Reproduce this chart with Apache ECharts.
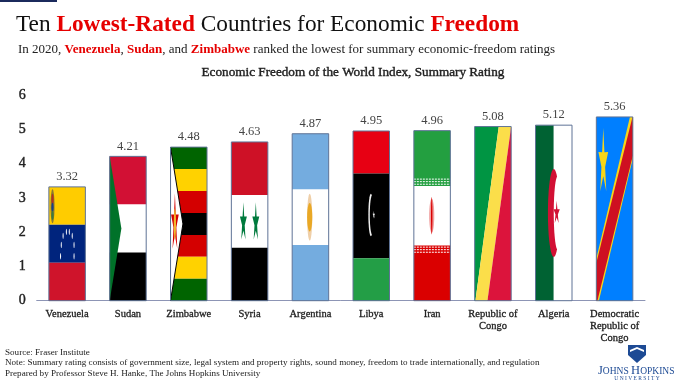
<!DOCTYPE html>
<html lang="en">
<head>
    <meta charset="UTF-8">
    <title>Ten Lowest-Rated Countries for Economic Freedom</title>
    <script src="https://cdn.jsdelivr.net/npm/echarts@6/dist/echarts.min.js"></script>
    <style>
        html, body { margin: 0; padding: 0; background: #fff; }
    </style>
</head>
<body>
<div id="main" style="width: 680px;height:383px;"></div>
<script type="text/javascript">
    var countries = ['Venezuela', 'Sudan', 'Zimbabwe', 'Syria', 'Argentina', 'Libya', 'Iran', 'Republic of\nCongo', 'Algeria', 'Democratic\nRepublic of\nCongo'];
    var ratings = [3.32, 4.21, 4.48, 4.63, 4.87, 4.95, 4.96, 5.08, 5.12, 5.36];
    var yTicks = [0, 1, 2, 3, 4, 5, 6];
    var chartTitle = 'Economic Freedom of the World Index, Summary Rating';
    var footnotes = [
        'Source: Fraser Institute',
        'Note: Summary rating consists of government size, legal system and property rights, sound money, freedom to trade internationally, and regulation',
        'Prepared by Professor Steve H. Hanke, The Johns Hopkins University'
    ];

    var SERIF = '"Liberation Serif", serif';

    // flag drawing helpers, everything in fractions of the bar box
    function rect(b, u0, v0, u1, v1, color) {
        return {type: 'rect', shape: {x: b.x + u0 * b.w, y: b.y + v0 * b.h, width: (u1 - u0) * b.w, height: (v1 - v0) * b.h}, style: {fill: color}};
    }
    function stripes(b, colors) {
        return colors.map(function (c, i) {
            return rect(b, 0, i / colors.length, 1, (i + 1) / colors.length, c);
        });
    }
    function poly(b, pts, color, stroke) {
        return {
            type: 'polygon',
            shape: {points: pts.map(function (p) { return [b.x + p[0] * b.w, b.y + p[1] * b.h]; })},
            style: stroke ? {fill: color, stroke: stroke, lineWidth: 1} : {fill: color}
        };
    }
    function oval(b, u, v, ru, rv, color) {
        return {type: 'ellipse', shape: {cx: b.x + u * b.w, cy: b.y + v * b.h, rx: ru * b.w, ry: rv * b.h}, style: {fill: color}};
    }
    function star(b, u, v, ru, rv, color) {
        var pts = [];
        for (var i = 0; i < 10; i++) {
            var r = i % 2 ? 0.38 : 1;
            var a = -Math.PI / 2 + i * Math.PI / 5;
            pts.push([u + r * ru * Math.cos(a), v + r * rv * Math.sin(a)]);
        }
        return poly(b, pts, color);
    }
    function dashes(b, v, color) {
        return {
            type: 'line',
            shape: {x1: b.x, y1: b.y + v * b.h, x2: b.x + b.w, y2: b.y + v * b.h},
            style: {stroke: color, lineWidth: 1, lineDash: [2, 1]}
        };
    }

    var flagPainters = {
        'Venezuela': function (b) {
            var out = stripes(b, ['#FFCC00', '#00247D', '#CF142B']);
            var su = [.32, .34, .39, .48, .56, .64, .69, .69];
            var sv = [.61, .51, .43, .395, .395, .43, .51, .61];
            su.forEach(function (u, i) { out.push(oval(b, u, sv[i], .014, .028, '#fff')); });
            out.push(oval(b, .1, .17, .055, .15, '#8a7a30'));
            out.push(oval(b, .1, .11, .03, .05, '#b5301f'));
            out.push(oval(b, .1, .18, .03, .04, '#1d3f86'));
            out.push(oval(b, .1, .25, .03, .04, '#3d7a3d'));
            return out;
        },
        'Sudan': function (b) {
            var out = stripes(b, ['#D21034', '#fff', '#000']);
            out.push(poly(b, [[0, 0], [.32, .5], [0, 1]], '#007229'));
            return out;
        },
        'Zimbabwe': function (b) {
            var out = stripes(b, ['#006400', '#FFD200', '#D40000', '#000', '#D40000', '#FFD200', '#006400']);
            out.push(poly(b, [[0, 0], [.34, .5], [0, 1]], '#fff', '#000'));
            out.push(star(b, .12, .5, .11, .2, '#D40000'));
            out.push(oval(b, .12, .5, .03, .1, '#F1B82D'));
            return out;
        },
        'Syria': function (b) {
            var out = stripes(b, ['#CE1126', '#fff', '#000']);
            out.push(star(b, .33, .51, .1, .13, '#007A3D'));
            out.push(star(b, .67, .51, .1, .13, '#007A3D'));
            return out;
        },
        'Argentina': function (b) {
            var out = stripes(b, ['#74ACDF', '#fff', '#74ACDF']);
            out.push(oval(b, .48, .5, .07, .14, '#EFCFA8'));
            out.push(oval(b, .48, .5, .07, .085, '#E9A825'));
            return out;
        },
        'Libya': function (b) {
            var out = [rect(b, 0, 0, 1, .25, '#E70013'), rect(b, 0, .25, 1, .75, '#000'), rect(b, 0, .75, 1, 1, '#239E46')];
            out.push(oval(b, .49, .495, .07, .125, '#eee'));
            out.push(oval(b, .53, .495, .07, .118, '#000'));
            out.push(star(b, .57, .495, .035, .025, '#eee'));
            return out;
        },
        'Iran': function (b) {
            var out = [rect(b, 0, 0, 1, .325, '#239F40'), rect(b, 0, .325, 1, .675, '#fff'), rect(b, 0, .675, 1, 1, '#DA0000')];
            [.285, .3, .315].forEach(function (v) { out.push(dashes(b, v, '#fff')); });
            [.685, .7, .715].forEach(function (v) { out.push(dashes(b, v, '#fff')); });
            out.push(oval(b, .49, .5, .07, .1, '#F0A0A0'));
            out.push(oval(b, .49, .5, .02, .11, '#DA0000'));
            return out;
        },
        'Republic of\nCongo': function (b) {
            return [
                poly(b, [[0, 0], [.66, 0], [.02, 1], [0, 1]], '#009543'),
                poly(b, [[.66, 0], [1, 0], [.35, 1], [.02, 1]], '#FBDE4A'),
                poly(b, [[1, 0], [1, 1], [.35, 1]], '#DC143C')
            ];
        },
        'Algeria': function (b) {
            var out = [rect(b, 0, 0, .5, 1, '#006233'), rect(b, .5, 0, 1, 1, '#fff')];
            out.push(oval(b, .5, .5, .16, .25, '#D21034'));
            out.push(oval(b, .61, .5, .11, .21, '#fff'));
            out.push(star(b, .58, .5, .09, .07, '#D21034'));
            return out;
        },
        'Democratic\nRepublic of\nCongo': function (b) {
            var out = [rect(b, 0, 0, 1, 1, '#007FFF')];
            out.push(poly(b, [[.92, 0], [1, 0], [1, .226], [.07, 1], [0, 1], [0, .77]], '#F7D618'));
            out.push(poly(b, [[.99, 0], [1, 0], [1, .21], [.03, 1], [0, 1], [0, .795]], '#CE1021'));
            out.push(star(b, .19, .25, .14, .19, '#F7D618'));
            return out;
        }
    };

    function renderFlag(params, api) {
        var i = api.value(0);
        var value = api.value(1);
        var base = api.coord([i, 0]);
        var top = api.coord([i, value]);
        var w = api.size([1, 0])[0] * 0.6;
        var box = {x: base[0] - w / 2, y: top[1], w: w, h: base[1] - top[1]};
        var children = flagPainters[countries[i]](box);
        // thin outline round the flag
        children.push({
            type: 'rect',
            shape: {x: box.x, y: box.y, width: box.w, height: box.h},
            style: {fill: 'none', stroke: '#5f7396', lineWidth: 1}
        });
        children.push({
            type: 'text',
            style: {
                x: base[0], y: top[1] - 10,
                text: value.toFixed(2),
                align: 'center', verticalAlign: 'middle',
                font: '12.5px ' + SERIF, fill: '#444'
            }
        });
        return {type: 'group', children: children};
    }

    var myChart = echarts.init(document.getElementById('main'), null, {renderer: 'canvas'});
    var option = {
        backgroundColor: '#fff',
        animation: false,
        title: [
            {
                left: 16, top: 13, padding: 0,
                text: '{n|Ten }{r|Lowest-Rated}{n| Countries for Economic }{r|Freedom}',
                textStyle: {
                    fontWeight: 'normal',
                    rich: {
                        n: {fontFamily: SERIF, fontSize: 23.3, fontWeight: 'normal', color: '#111'},
                        r: {fontFamily: SERIF, fontSize: 23.3, fontWeight: 'bold', color: '#E60000'}
                    }
                }
            },
            {
                left: 18, top: 43, padding: 0,
                text: '{n|In 2020, }{r|Venezuela}{n|, }{r|Sudan}{n|, and }{r|Zimbabwe}{n| ranked the lowest for summary economic-freedom ratings}',
                textStyle: {
                    fontWeight: 'normal',
                    rich: {
                        n: {fontFamily: SERIF, fontSize: 13, fontWeight: 'normal', color: '#222'},
                        r: {fontFamily: SERIF, fontSize: 13, fontWeight: 'bold', color: '#E60000'}
                    }
                }
            },
            {
                left: 353, top: 66, padding: 0, textAlign: 'center',
                text: chartTitle,
                textStyle: {fontFamily: SERIF, fontSize: 13.2, fontWeight: 'normal', color: '#222', textBorderColor: '#222', textBorderWidth: 0.4}
            },
            {
                left: 5, top: 347, padding: 0,
                text: footnotes.join('\n'),
                textStyle: {fontFamily: SERIF, fontSize: 9.1, fontWeight: 'normal', color: '#222', lineHeight: 10.5}
            }
        ],
        grid: {left: 36.7, right: 35, top: 95, bottom: 82.3, containLabel: false},
        xAxis: {
            type: 'category',
            data: countries,
            axisTick: {show: false},
            axisLine: {lineStyle: {color: '#8d95b5', width: 1}},
            axisLabel: {
                interval: 0, margin: 8, lineHeight: 12,
                fontFamily: SERIF, fontSize: 10.5, color: '#222', textBorderColor: '#222', textBorderWidth: 0.3
            }
        },
        yAxis: {
            type: 'value',
            min: yTicks[0], max: yTicks[yTicks.length - 1], interval: 1,
            splitLine: {show: false},
            axisLine: {show: false},
            axisTick: {show: false},
            axisLabel: {margin: 11, fontFamily: SERIF, fontSize: 14, color: '#222', textBorderColor: '#222', textBorderWidth: 0.4}
        },
        series: [{
            type: 'custom',
            renderItem: renderFlag,
            encode: {x: 0, y: 1},
            data: ratings.map(function (v, i) { return [i, v]; })
        }],
        graphic: [
            {type: 'rect', shape: {x: 0, y: 0, width: 57, height: 2}, style: {fill: '#1b2a5c'}},
            {type: 'polygon', shape: {points: [[628, 345], [646, 345], [646, 355], [637, 363], [628, 355]]}, style: {fill: '#1d4a94'}},
            {type: 'polygon', shape: {points: [[630, 350], [637, 347], [644, 350], [644, 352], [637, 349], [630, 352]]}, style: {fill: '#fff'}},
            {type: 'text', style: {x: 598, y: 371, text: '{a|J}{b|OHNS }{a|H}{b|OPKINS}', verticalAlign: 'middle',
                rich: {
                    a: {fontFamily: SERIF, fontSize: 12.5, fill: '#1d4a94'},
                    b: {fontFamily: SERIF, fontSize: 9.5, fill: '#1d4a94'}
                }}},
            {type: 'text', style: {x: 637, y: 379, text: 'U N I V E R S I T Y', align: 'center', verticalAlign: 'middle', font: '5.5px ' + SERIF, fill: '#1d4a94'}}
        ]
    };
    myChart.setOption(option);
</script>
</body>
</html>
